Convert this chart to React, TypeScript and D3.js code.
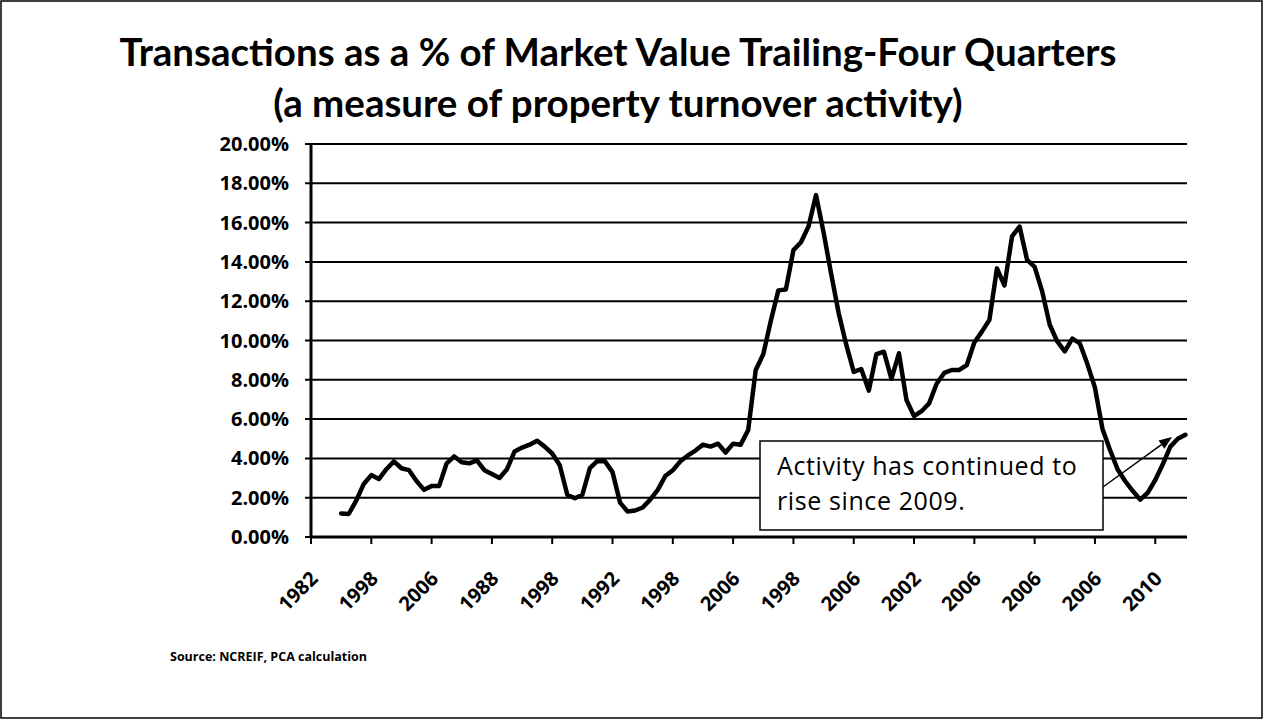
import React from "react";
import * as d3 from "d3";

// trailing four-quarter transactions as % of market value, quarterly from 1983 Q1
const firstQuarter = 4;
const turnover = [
  1.2, 1.17, 1.85, 2.7, 3.15, 2.95, 3.45, 3.85, 3.5, 3.4,
  2.85, 2.4, 2.6, 2.6, 3.75, 4.1, 3.8, 3.75, 3.9, 3.4,
  3.2, 3.0, 3.45, 4.35, 4.55, 4.7, 4.9, 4.6, 4.25, 3.65,
  2.15, 1.97, 2.15, 3.5, 3.87, 3.85, 3.3, 1.75, 1.3, 1.35,
  1.5, 1.9, 2.4, 3.1, 3.4, 3.85, 4.15, 4.4, 4.7, 4.6,
  4.75, 4.3, 4.75, 4.7, 5.45, 8.5, 9.3, 11.0, 12.55, 12.6,
  14.6, 15.0, 15.8, 17.4, 15.5, 13.4, 11.4, 9.8, 8.4, 8.55,
  7.45, 9.3, 9.43, 8.05, 9.35, 6.97, 6.15, 6.4, 6.8, 7.8,
  8.35, 8.5, 8.5, 8.75, 9.9, 10.45, 11.05, 13.67, 12.8, 15.3,
  15.8, 14.1, 13.75, 12.5, 10.8, 9.95, 9.45, 10.1, 9.85, 8.8,
  7.6, 5.5, 4.43, 3.45, 2.85, 2.35, 1.9, 2.25, 2.9, 3.7,
  4.6, 5.0, 5.2,
];

// the scanned axis labels, as printed
const xTickLabels = [
  "1982", "1998", "2006", "1988", "1998", "1992", "1998", "2006",
  "1998", "2006", "2002", "2006", "2006", "2006", "2010",
];
const quartersPerTick = 8;
const yTicks = [0, 2, 4, 6, 8, 10, 12, 14, 16, 18, 20];

const titleLines = [
  "Transactions as a % of Market Value Trailing-Four Quarters",
  "(a measure of property turnover activity)",
];
const noteLines = ["Activity has continued to", "rise since 2009."];
const sourceText = "Source:  NCREIF, PCA calculation";

const W = 1263;
const H = 719;
const left = 311;
const right = 1187;
const top = 144;
const bottom = 537;
const lastQuarter = firstQuarter + turnover.length - 1;

const App = () => {
  const x = d3.scaleLinear().domain([0, lastQuarter]).range([left, 1185.4]);
  const y = d3.scaleLinear().domain([0, 20]).range([bottom, top]);

  const line = d3
    .line<number>()
    .x((d, i) => x(firstQuarter + i))
    .y((d) => y(d));

  const tickQs = xTickLabels.map((_, i) => i * quartersPerTick);

  // arrow inside the note
  const ax1 = 1103;
  const ay1 = 487;
  const ax2 = 1172;
  const ay2 = 437;
  const ang = Math.atan2(ay2 - ay1, ax2 - ax1);
  const head = 13;
  const hw = 5;
  const bx = ax2 - head * Math.cos(ang);
  const by = ay2 - head * Math.sin(ang);
  const arrowHead = [
    [ax2, ay2],
    [bx + hw * Math.sin(ang), by - hw * Math.cos(ang)],
    [bx - hw * Math.sin(ang), by + hw * Math.cos(ang)],
  ]
    .map((p) => p.join(","))
    .join(" ");

  return (
    <svg
      width={W}
      height={H}
      style={{ position: "absolute", left: 0, top: 0, background: "#fff" }}
    >
      <rect x={1} y={1} width={W - 2} height={H - 2} fill="#fff" stroke="#000" strokeWidth={1.5} />

      <g fontFamily="Lato, 'Open Sans', sans-serif" fontWeight="bold" fontSize={38.5} textAnchor="middle">
        <text x={618} y={66}>{titleLines[0]}</text>
        <text x={618} y={117}>{titleLines[1]}</text>
      </g>

      {/* gridlines and y labels */}
      <g fontFamily="'Open Sans', sans-serif" fontWeight="bold" fontSize={20}>
        {yTicks.map((t) => (
          <g key={t}>
            <line x1={left - 6} x2={right} y1={y(t)} y2={y(t)} stroke="#000" strokeWidth={2} />
            <text x={289} y={y(t)} dy="0.35em" textAnchor="end">
              {t.toFixed(2) + "%"}
            </text>
          </g>
        ))}
      </g>

      {/* axes */}
      <line x1={left} x2={left} y1={top} y2={bottom} stroke="#000" strokeWidth={3} />
      <line x1={left} x2={right} y1={bottom} y2={bottom} stroke="#000" strokeWidth={3} />
      <g fontFamily="'Open Sans', sans-serif" fontWeight="bold" fontSize={20}>
        {tickQs.map((q, i) => (
          <g key={q}>
            <line x1={x(q)} x2={x(q)} y1={bottom} y2={bottom + 7} stroke="#000" strokeWidth={2} />
            <text
              transform={`translate(${x(q) + 8},${580}) rotate(-45)`}
              textAnchor="end"
            >
              {xTickLabels[i]}
            </text>
          </g>
        ))}
      </g>

      {/* note box */}
      <rect x={760} y={441} width={343} height={89} fill="#fff" stroke="#000" strokeWidth={1.5} />
      <g fontFamily="'Open Sans', sans-serif" fontSize={25} letterSpacing={0.6}>
        <text x={777} y={475}>{noteLines[0]}</text>
        <text x={777} y={510}>{noteLines[1]}</text>
      </g>

      <path
        d={line(turnover) || ""}
        fill="none"
        stroke="#000"
        strokeWidth={4.5}
        strokeLinejoin="round"
        strokeLinecap="round"
      />

      <line x1={ax1} y1={ay1} x2={bx} y2={by} stroke="#000" strokeWidth={1.5} />
      <polygon points={arrowHead} fill="#000" />

      <text x={170} y={661} fontFamily="'Open Sans', sans-serif" fontWeight="bold" fontSize={12.5}>
        {sourceText}
      </text>
    </svg>
  );
};

export default App;
